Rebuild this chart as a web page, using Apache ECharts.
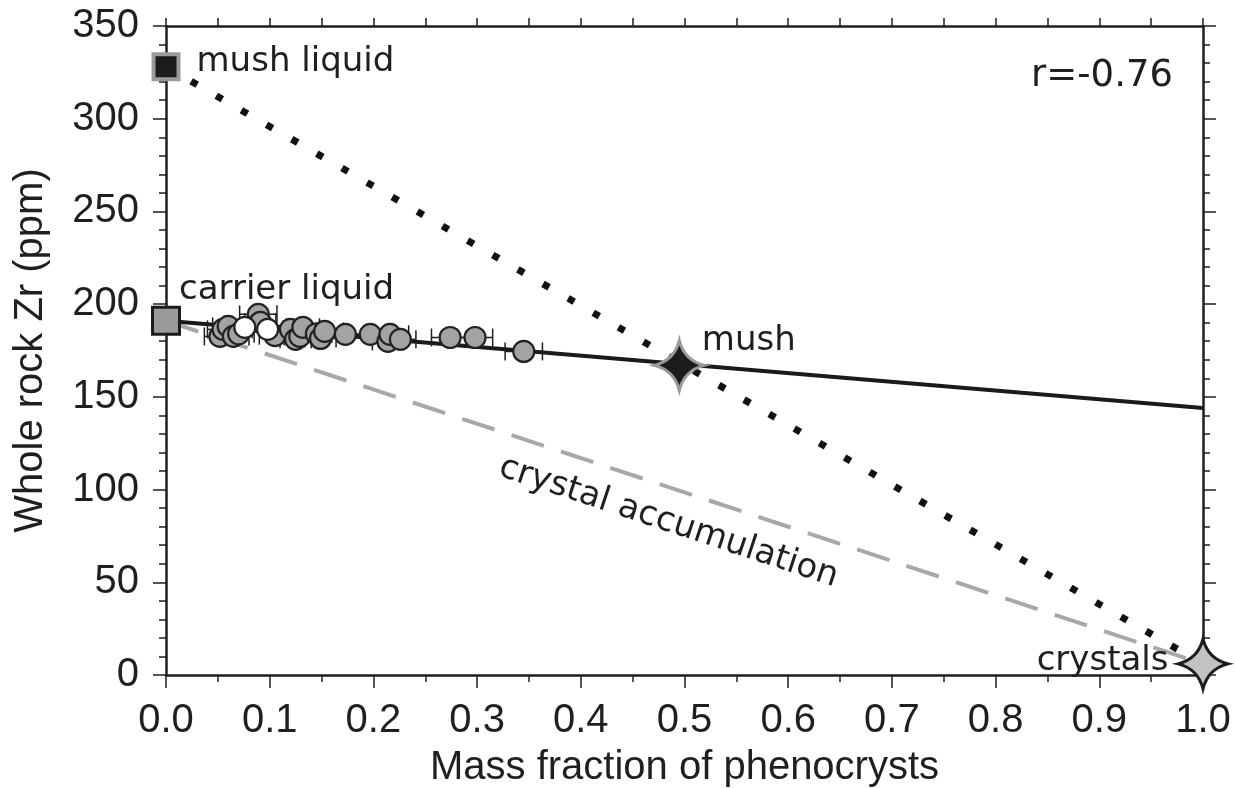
<!DOCTYPE html>
<html>
<head>
<meta charset="utf-8">
<script src="https://cdn.jsdelivr.net/npm/echarts@6/dist/echarts.min.js"></script>
<style>
html,body{margin:0;padding:0;background:#fff;}
#chart{width:1235px;height:788px;}
</style>
</head>
<body>
<div id="chart"></div>
<script>
// ---- data ----
const xAxisTitle = 'Mass fraction of phenocrysts';
const yAxisTitle = 'Whole rock Zr (ppm)';
const rLabel = 'r=-0.76';

// end-members [mass fraction, Zr ppm]
const mushLiquid = [0, 328];
const carrierLiquid = [0, 191];
const mush = [0.495, 167];
const crystals = [1.0, 6];
const mixingLineEnd = [1.0, 144];

const endMemberNames = ['mush liquid', 'carrier liquid', 'mush', 'crystals'];
const accumulationLabel = 'crystal accumulation';

// samples (grey)
const sampleX   = [0.052, 0.055, 0.060, 0.065, 0.070, 0.089, 0.091, 0.105, 0.120, 0.125, 0.129, 0.132, 0.145, 0.149, 0.153, 0.173, 0.197, 0.214, 0.216, 0.226, 0.274, 0.298, 0.345];
const sampleY   = [182.6, 186.4, 188.0, 182.6, 184.0, 194.5, 190.2, 183.0, 186.4, 181.0, 182.6, 187.5, 184.0, 181.5, 185.3, 183.7, 183.7, 179.9, 183.7, 181.0, 182.0, 182.0, 174.5];
const sampleErr = [0.015, 0.015, 0.015, 0.015, 0.015, 0.018, 0.015, 0.015, 0.015, 0.015, 0.015, 0.016, 0.015, 0.015, 0.018, 0.018, 0.018, 0.015, 0.018, 0.015, 0.018, 0.017, 0.018];
// samples (white)
const whiteX   = [0.076, 0.098];
const whiteY   = [187.5, 186.4];
const whiteErr = [0.015, 0.015];

const chart = echarts.init(document.getElementById('chart'));

const tickFont = 'Liberation Sans';
const annFont = 'DejaVu Sans';
const ink = '#1f1f1f';

const greyPts = sampleX.map((x, i) => [x, sampleY[i], sampleErr[i]]);
const whitePts = whiteX.map((x, i) => [x, whiteY[i], whiteErr[i]]);

const starPath = 'path://M50,0 Q60,40 100,50 Q60,60 50,100 Q40,60 0,50 Q40,40 50,0 Z';

function errRender(params, api) {
  const x = api.value(0), y = api.value(1), e = api.value(2);
  const p0 = api.coord([x - e, y]);
  const p1 = api.coord([x + e, y]);
  const cap = 9;
  const st = { stroke: ink, lineWidth: 1.5 };
  return {
    type: 'group',
    children: [
      { type: 'line', shape: { x1: p0[0], y1: p0[1], x2: p1[0], y2: p1[1] }, style: st },
      { type: 'line', shape: { x1: p0[0], y1: p0[1] - cap, x2: p0[0], y2: p0[1] + cap }, style: st },
      { type: 'line', shape: { x1: p1[0], y1: p1[1] - cap, x2: p1[0], y2: p1[1] + cap }, style: st }
    ]
  };
}

const axisLineStyle = { color: ink, width: 2.5 };
const lbl = (text, pos, dist, off) => ({
  show: true, formatter: text, position: pos, distance: dist, offset: off,
  fontFamily: annFont, fontSize: 34, color: ink, opacity: 1
});

const option = {
  animation: false,
  backgroundColor: '#fff',
  grid: { left: 166, right: 32, top: 26, bottom: 113, containLabel: false, outerBoundsMode: 'none' },
  xAxis: [
    {
      type: 'value', min: 0, max: 1, interval: 0.1, position: 'bottom',
      name: xAxisTitle, nameLocation: 'middle', nameGap: 73,
      nameTextStyle: { fontFamily: tickFont, fontSize: 40, color: ink },
      axisLine: { show: true, onZero: false, lineStyle: axisLineStyle },
      axisTick: { show: true, inside: false, length: 13, lineStyle: { color: ink, width: 1.5 } },
      minorTick: { show: true, splitNumber: 2, length: 7, lineStyle: { color: ink, width: 1.5 } },
      axisLabel: { fontFamily: tickFont, fontSize: 40, color: ink, margin: 26, formatter: v => v.toFixed(1) },
      splitLine: { show: false }, minorSplitLine: { show: false }
    },
    {
      type: 'value', min: 0, max: 1, interval: 0.05, position: 'top',
      axisLine: { show: true, onZero: false, lineStyle: axisLineStyle },
      axisTick: { show: true, inside: false, length: 8, lineStyle: { color: ink, width: 1.5 } },
      axisLabel: { show: false }, splitLine: { show: false }
    }
  ],
  yAxis: [
    {
      type: 'value', min: 0, max: 350, interval: 50, position: 'left',
      name: yAxisTitle, nameLocation: 'middle', nameGap: 115,
      nameTextStyle: { fontFamily: tickFont, fontSize: 40, color: ink },
      axisLine: { show: true, onZero: false, lineStyle: axisLineStyle },
      axisTick: { show: true, inside: false, length: 13, lineStyle: { color: ink, width: 1.5 } },
      minorTick: { show: true, splitNumber: 5, length: 7, lineStyle: { color: ink, width: 1.5 } },
      axisLabel: { fontFamily: tickFont, fontSize: 40, color: ink, margin: 27 },
      splitLine: { show: false }, minorSplitLine: { show: false }
    },
    {
      type: 'value', min: 0, max: 350, interval: 50, position: 'right',
      axisLine: { show: true, onZero: false, lineStyle: axisLineStyle },
      axisTick: { show: true, inside: false, length: 13, lineStyle: { color: ink, width: 1.5 } },
      minorTick: { show: true, splitNumber: 5, length: 7, lineStyle: { color: ink, width: 1.5 } },
      axisLabel: { show: false }, splitLine: { show: false }
    }
  ],
  series: [
    { // crystal accumulation (grey dashed)
      type: 'line', data: [carrierLiquid, crystals], symbol: 'none', z: 2,
      lineStyle: { color: '#a8a8a8', width: 4, type: [34, 18], cap: 'butt' }
    },
    { // mush liquid -> crystals (black dotted)
      type: 'line', data: [mushLiquid, crystals], symbol: 'none', z: 3,
      lineStyle: { color: '#111', width: 7, type: [7, 22], cap: 'butt' }
    },
    { // regression / mixing line (solid)
      type: 'line', data: [carrierLiquid, mixingLineEnd], symbol: 'none', z: 4,
      lineStyle: { color: '#1a1a1a', width: 4 }
    },
    { // error bars
      type: 'custom', renderItem: errRender, z: 5,
      data: greyPts.concat(whitePts), encode: { x: 0, y: 1 }
    },
    {
      type: 'scatter', data: greyPts, symbol: 'circle', symbolSize: 21, z: 6,
      itemStyle: { color: '#a3a3a3', borderColor: '#222', borderWidth: 2.2, opacity: 1 }
    },
    {
      type: 'scatter', data: whitePts, symbol: 'circle', symbolSize: 21, z: 7,
      itemStyle: { color: '#ffffff', borderColor: '#222', borderWidth: 2.2, opacity: 1 }
    },
    { // mush liquid
      type: 'scatter', data: [mushLiquid], symbol: 'rect', symbolSize: 25, z: 10,
      itemStyle: { color: '#1c1c1c', borderColor: '#9a9a9a', borderWidth: 4, opacity: 1 },
      label: lbl(endMemberNames[0], 'right', 16, [0, -5])
    },
    { // carrier liquid
      type: 'scatter', data: [carrierLiquid], symbol: 'rect', symbolSize: 27, z: 10,
      itemStyle: { color: '#9a9a9a', borderColor: '#1c1c1c', borderWidth: 3, opacity: 1 },
      label: lbl(endMemberNames[1], 'right', 0, [-2, -31])
    },
    { // mush
      type: 'scatter', data: [mush], symbol: starPath, symbolSize: 50, z: 10,
      itemStyle: { color: '#1c1c1c', borderColor: '#9a9a9a', borderWidth: 3, opacity: 1 },
      label: lbl(endMemberNames[2], 'right', -4, [0, -24])
    },
    { // crystals
      type: 'scatter', data: [crystals], symbol: starPath, symbolSize: 50, z: 10,
      itemStyle: { color: '#c2c2c2', borderColor: '#1c1c1c', borderWidth: 3, opacity: 1 },
      label: lbl(endMemberNames[3], 'left', 8, [0, -3])
    }
  ]
};
chart.setOption(option);

// annotation placed relative to the crystal-accumulation line
const pA = chart.convertToPixel({ xAxisIndex: 0, yAxisIndex: 0 }, carrierLiquid);
const pB = chart.convertToPixel({ xAxisIndex: 0, yAxisIndex: 0 }, crystals);
const ang = Math.atan2(pB[1] - pA[1], pB[0] - pA[0]);
const mid = [(pA[0] + pB[0]) / 2, (pA[1] + pB[1]) / 2];
chart.setOption({
  graphic: [
    {
      type: 'text', x: mid[0] - 16, y: mid[1] + 30, rotation: -ang,
      style: { text: accumulationLabel, fontFamily: annFont, fontSize: 34, fill: ink, align: 'center', verticalAlign: 'middle' },
      z: 20
    },
    {
      type: 'text', right: 62, top: 58,
      style: { text: rLabel, fontFamily: annFont, fontSize: 37, fill: ink },
      z: 20
    }
  ]
});
</script>
</body>
</html>
